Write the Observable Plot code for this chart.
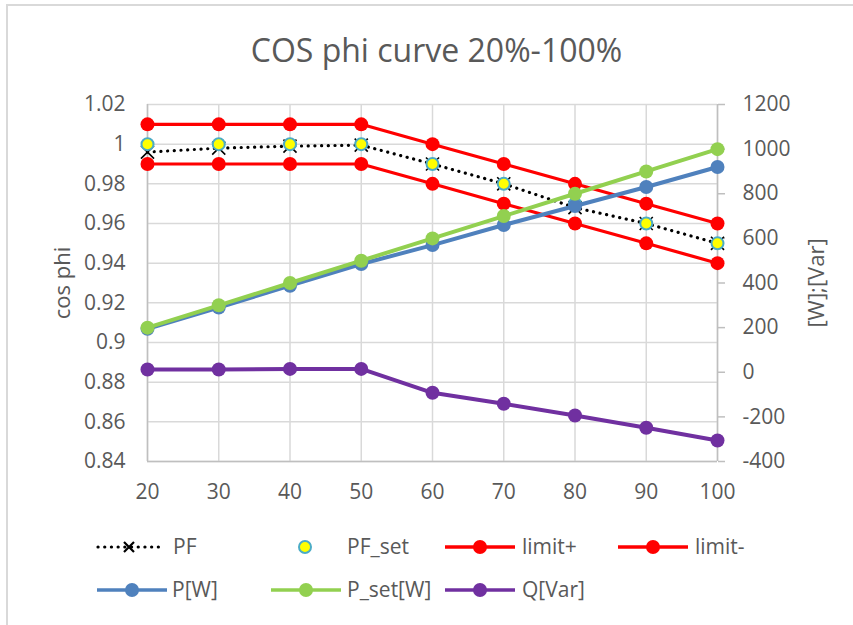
<!DOCTYPE html>
<html><head><meta charset="utf-8">
<script src="https://cdn.jsdelivr.net/npm/d3@7"></script>
<script src="https://cdn.jsdelivr.net/npm/@observablehq/plot@0.6"></script>
<style>
body{margin:0;background:#fff;font-family:"Open Sans",sans-serif;}
#wrap{position:relative;width:853px;height:625px;overflow:hidden;background:#fff}
#border{position:absolute;left:6px;top:4px;width:1000px;height:1000px;border-left:2px solid #d9d9d9;border-top:2px solid #d9d9d9;box-sizing:border-box}
#chart{position:absolute;left:0;top:0}
#title{position:absolute;left:0;width:873px;top:34px;text-align:center;font-size:32px;line-height:32px;color:#595959;white-space:nowrap}
.ytitle{position:absolute;font-size:22px;color:#595959;white-space:nowrap;transform:translate(-50%,-50%) rotate(-90deg);line-height:22px}
.leg{position:absolute;height:30px;display:flex;align-items:center;font-size:21px;color:#595959;white-space:nowrap}
.leg svg{display:block;margin-right:6px}
</style></head>
<body>
<div id="wrap">
  <div id="border"></div>
  <div id="chart"></div>
  <div id="title"></div>
  <div class="ytitle" id="ylab" style="left:61px;top:283px"></div>
  <div class="ytitle" id="y2lab" style="left:815px;top:283px"></div>
  <div id="legend"></div>
</div>
<script>
// ---- data ----
const titleText = "COS phi curve 20%-100%";
const yLabel = "cos phi";
const y2Label = "[W];[Var]";
const loads = [20, 30, 40, 50, 60, 70, 80, 90, 100];
const PF = [0.996, 0.998, 0.999, 0.9995, 0.99, 0.98, 0.968, 0.96, 0.95];
const PF_set = [1, 1, 1, 1, 0.99, 0.98, 0.97, 0.96, 0.95];
const limitPlus = [1.01, 1.01, 1.01, 1.01, 1.0, 0.99, 0.98, 0.97, 0.96];
const limitMinus = [0.99, 0.99, 0.99, 0.99, 0.98, 0.97, 0.96, 0.95, 0.94];
const P_W = [195, 290, 388, 485, 570, 660, 745, 830, 920];
const P_set_W = [200, 300, 400, 500, 600, 700, 800, 900, 1000];
const Q_Var = [12, 12, 15, 15, -92, -141, -194, -249, -306];
const leftTicks = [0.84, 0.86, 0.88, 0.9, 0.92, 0.94, 0.96, 0.98, 1.0, 1.02];
const rightTicks = [-400, -200, 0, 200, 400, 600, 800, 1000, 1200];
const leftDomain = [0.84, 1.02];
const rightDomain = [-400, 1200];
const seriesNames = ["PF", "PF_set", "limit+", "limit-", "P[W]", "P_set[W]", "Q[Var]"];
const colors = {PF:"#000000", PF_set:"#ffff00", PF_setStroke:"#4bacc6", limit:"#ff0000", P:"#4f81bd", Pset:"#92d050", Q:"#7030a0"};

// map secondary-axis values onto the primary scale's domain
const toL = v => leftDomain[0] + (v - rightDomain[0]) / (rightDomain[1] - rightDomain[0]) * (leftDomain[1] - leftDomain[0]);
const fromL = d => Math.round(rightDomain[0] + (d - leftDomain[0]) / (leftDomain[1] - leftDomain[0]) * (rightDomain[1] - rightDomain[0]));

const rows = loads.map((x, i) => ({
  x, pf: PF[i], pfset: PF_set[i], lp: limitPlus[i], lm: limitMinus[i],
  p: toL(P_W[i]), ps: toL(P_set_W[i]), q: toL(Q_Var[i])
}));

const grid = "#d9d9d9", axisC = "#bfbfbf", txt = "#595959";
const lineSeries = (y, stroke, w) => [
  Plot.line(rows, {x: "x", y, stroke, strokeWidth: w, strokeLinejoin: "round"}),
  Plot.dot(rows, {x: "x", y, fill: stroke, r: 7, stroke: "none"})
];

const plot = Plot.plot({
  width: 853, height: 625,
  marginLeft: 147, marginRight: 136, marginTop: 104, marginBottom: 164,
  style: {fontFamily: "Open Sans", fontSize: "21px", color: txt, background: "transparent", overflow: "visible"},
  x: {domain: [20, 100]},
  y: {domain: leftDomain},
  marks: [
    Plot.gridY(leftTicks, {stroke: grid, strokeOpacity: 1, strokeWidth: 1.5}),
    Plot.gridX(loads, {stroke: grid, strokeOpacity: 1, strokeWidth: 1.5}),
    Plot.ruleX([20], {stroke: axisC, strokeWidth: 1.5}),
    Plot.ruleX([100], {stroke: axisC, strokeWidth: 1.5}),
    Plot.ruleY([leftDomain[0]], {stroke: axisC, strokeWidth: 1.5}),
    Plot.axisY(leftTicks, {anchor: "left", tickSize: 0, tickPadding: 22, label: null, fill: txt,
      tickFormat: d => String(+d.toFixed(2))}),
    Plot.axisY(rightTicks.map(toL), {anchor: "right", tickSize: 7, tickPadding: 18, label: null,
      stroke: axisC, strokeWidth: 1.5, fill: txt, tickFormat: d => String(fromL(d))}),
    Plot.axisX(loads, {anchor: "bottom", tickSize: 0, tickPadding: 23, label: null, fill: txt,
      tickFormat: d => String(d)}),
    // primary series
    Plot.line(rows, {x: "x", y: "pf", stroke: colors.PF, strokeWidth: 3.2, strokeDasharray: "0.1 6.6", strokeLinecap: "round"}),
    Plot.dot(rows, {x: "x", y: "pf", symbol: "times", r: 6, stroke: colors.PF, strokeWidth: 1.6}),
    Plot.dot(rows, {x: "x", y: "pfset", r: 6, fill: colors.PF_set, stroke: colors.PF_setStroke, strokeWidth: 2}),
    ...lineSeries("lp", colors.limit, 3.2),
    ...lineSeries("lm", colors.limit, 3.2),
    // secondary series
    ...lineSeries("p", colors.P, 4),
    ...lineSeries("ps", colors.Pset, 4),
    ...lineSeries("q", colors.Q, 4)
  ]
});
document.getElementById("chart").appendChild(plot);
document.getElementById("title").textContent = titleText;
document.getElementById("ylab").textContent = yLabel;
document.getElementById("y2lab").textContent = y2Label;

// legend
function sym(kind, color) {
  const w = 70, h = 20, c = 35;
  let s = `<svg width="${w}" height="${h}" viewBox="0 0 ${w} ${h}">`;
  if (kind === "pf") {
    s = `<svg width="66" height="${h}" viewBox="0 0 66 ${h}">`;
    s += `<line x1="2" y1="10" x2="64" y2="10" stroke="#000" stroke-width="3.2" stroke-dasharray="0.1 6.6" stroke-linecap="round"/>`;
    s += `<path d="M28 5 L38 15 M38 5 L28 15" stroke="#000" stroke-width="2.2"/>`;
  } else if (kind === "pfset") {
    s += `<circle cx="${c}" cy="10" r="6" fill="${colors.PF_set}" stroke="${colors.PF_setStroke}" stroke-width="2"/>`;
  } else {
    s += `<line x1="0" y1="10" x2="${w}" y2="10" stroke="${color}" stroke-width="3.5"/>`;
    s += `<circle cx="${c}" cy="10" r="7" fill="${color}"/>`;
  }
  return s + "</svg>";
}
const legendItems = [
  {name: seriesNames[0], kind: "pf", left: 96, top: 547, tl: 173},
  {name: seriesNames[1], kind: "pfset", left: 270, top: 547, tl: 347},
  {name: seriesNames[2], kind: "line", color: colors.limit, left: 445, top: 547, tl: 522},
  {name: seriesNames[3], kind: "line", color: colors.limit, left: 618, top: 547, tl: 695},
  {name: seriesNames[4], kind: "line", color: colors.P, left: 97, top: 590, tl: 172},
  {name: seriesNames[5], kind: "line", color: colors.Pset, left: 271, top: 590, tl: 347},
  {name: seriesNames[6], kind: "line", color: colors.Q, left: 445, top: 590, tl: 522}
];
const lg = document.getElementById("legend");
for (const it of legendItems) {
  const d = document.createElement("div");
  d.className = "leg";
  d.style.left = it.left + "px";
  d.style.top = (it.top - 15) + "px";
  d.innerHTML = sym(it.kind, it.color);
  lg.appendChild(d);
  const t = document.createElement("div");
  t.className = "leg";
  t.style.left = it.tl + "px";
  t.style.top = (it.top - 16) + "px";
  t.textContent = it.name;
  lg.appendChild(t);
}
</script>
</body></html>
